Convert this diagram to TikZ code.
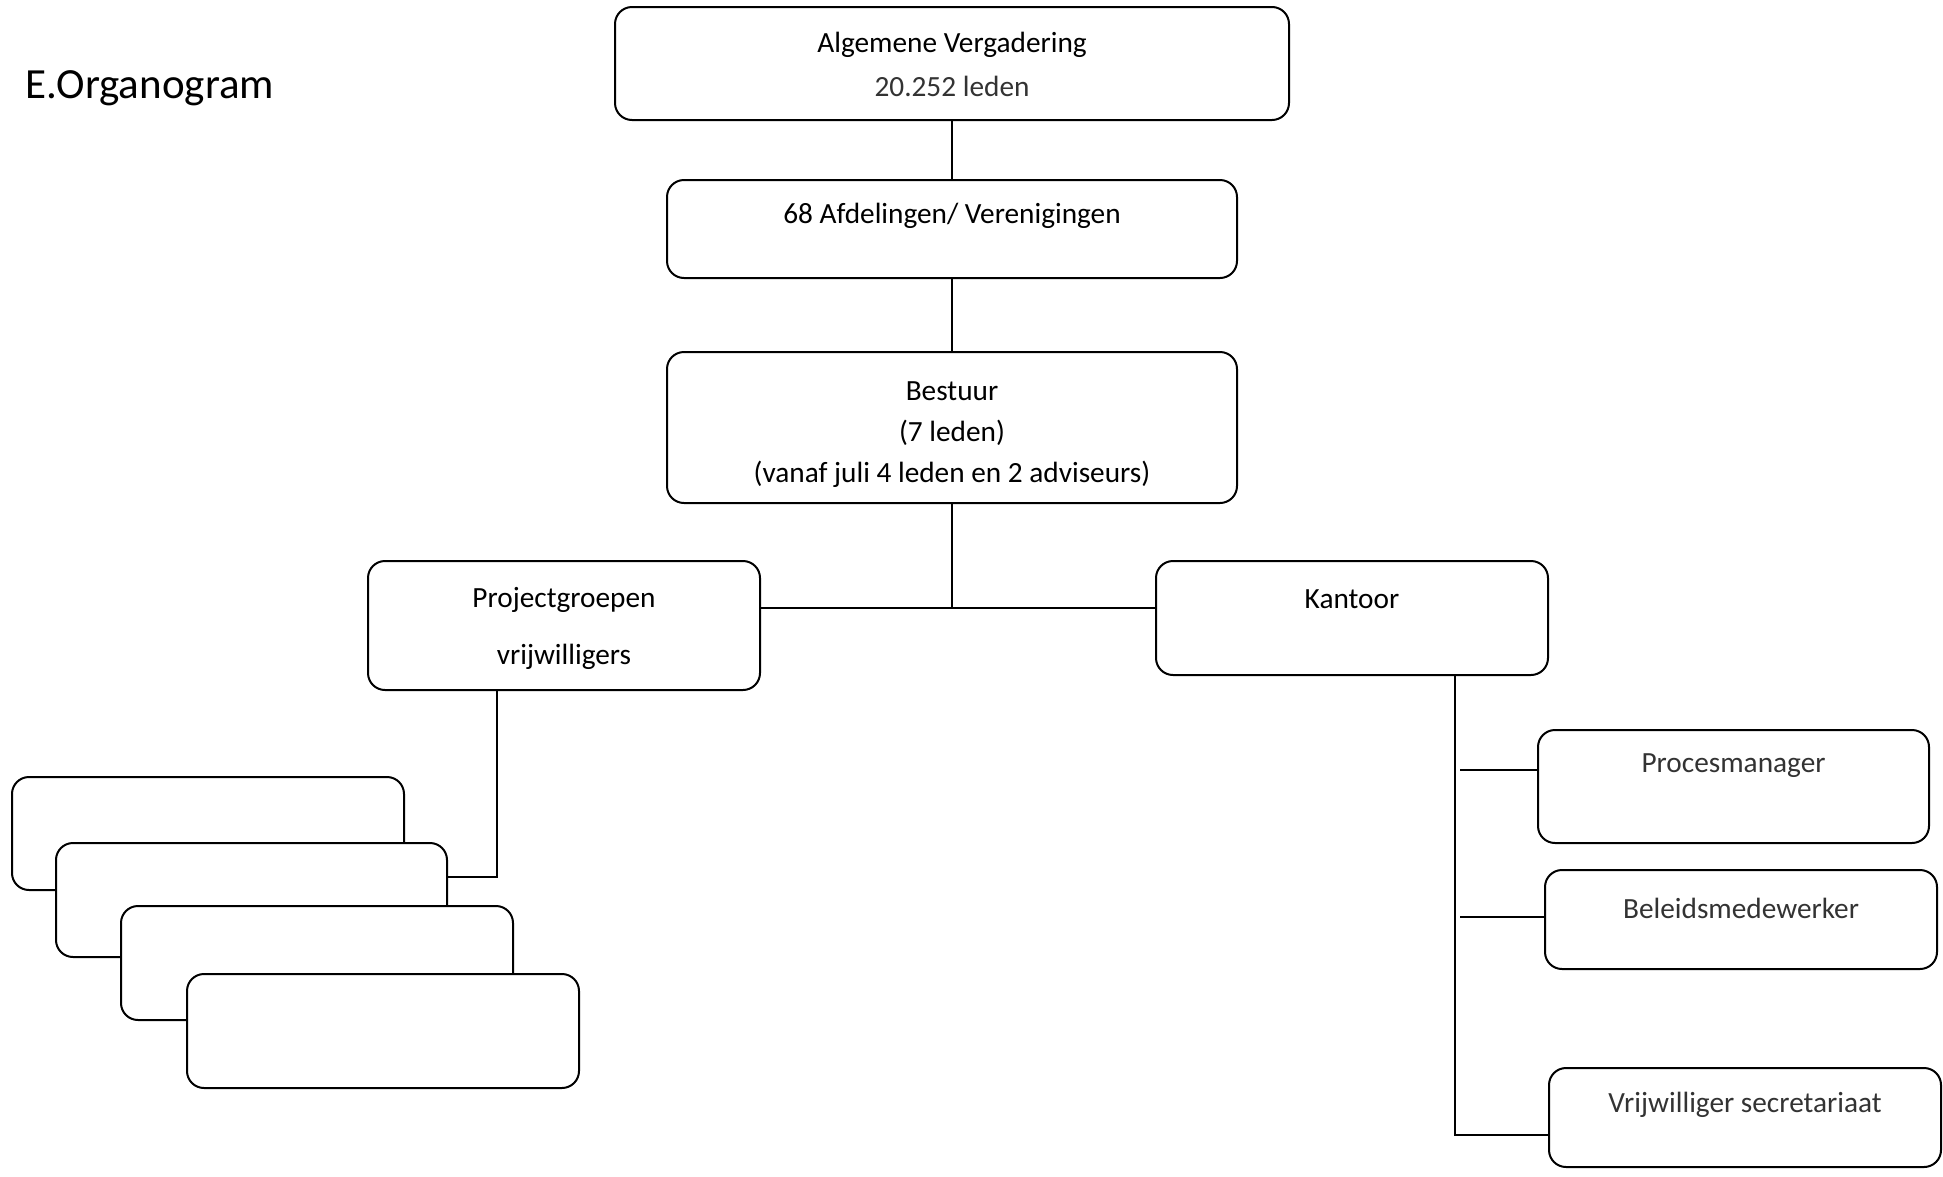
\documentclass[tikz,border=0pt]{standalone}
\usepackage{fontspec}
\setmainfont{Carlito}
\begin{document}
\begin{tikzpicture}[x=1pt,y=-1pt,
  box/.style={draw=black, line width=2pt, rounded corners=17pt, fill=white, inner sep=0pt},
  conn/.style={draw=black, line width=2pt},
  lbl/.style={font=\fontsize{29.3}{35}\selectfont, inner sep=0pt, anchor=center},
  lightlbl/.style={lbl, text=black!80}]
\useasboundingbox (0,0) rectangle (1943,1176);

\node[anchor=west, font=\fontsize{43}{52}\selectfont, inner sep=0pt] (title) at (25,88) {E.Organogram};

% main column
\node[box, minimum width=674pt, minimum height=113pt] (alg) at (952,63.5) {};
\node[lbl] (algt) at (952,45) {Algemene Vergadering};
\node[lightlbl] (algn) at (952,86) {20.252 leden};

\node[box, minimum width=570pt, minimum height=98pt] (afd) at (952,229) {};
\node[lbl] (afdt) at (952,216) {68 Afdelingen/ Verenigingen};

\node[box, minimum width=570pt, minimum height=151pt] (best) at (952,427.5) {};
\node[lbl] (bt1) at (952,391) {Bestuur};
\node[lbl] (bt2) at (952,433) {(7 leden)};
\node[lbl] (bt3) at (952,474) {(vanaf juli 4 leden en 2 adviseurs)};

\node[box, minimum width=392pt, minimum height=129pt] (proj) at (564,625.5) {};
\node[lbl] (pt1) at (564,600) {Projectgroepen};
\node[lbl] (pt2) at (564,657) {vrijwilligers};

\node[box, minimum width=392pt, minimum height=114pt] (kant) at (1352,618) {};
\node[lbl] (kt) at (1352,599) {Kantoor};

% stacked project boxes
\node[box, minimum width=392pt, minimum height=113pt] (s1) at (208,833.5) {};
\node[box, minimum width=391pt, minimum height=114pt] (s2) at (251.5,900) {};
\node[box, minimum width=392pt, minimum height=114pt] (s3) at (317,963) {};
\node[box, minimum width=392pt, minimum height=114pt] (s4) at (383,1031) {};

% office boxes
\node[box, minimum width=391pt, minimum height=113pt] (pm) at (1733.5,786.5) {};
\node[lightlbl] (pmt) at (1733.5,766) {Procesmanager};
\node[box, minimum width=392pt, minimum height=99pt] (bm) at (1741,919.5) {};
\node[lightlbl] (bmt) at (1741,908) {Beleidsmedewerker};
\node[box, minimum width=392pt, minimum height=99pt] (vs) at (1745,1117.5) {};
\node[lightlbl] (vst) at (1745,1105) {Vrijwilliger secretariaat};

% connectors
\draw[conn] (alg.south) -- (afd.north);
\draw[conn] (afd.south) -- (best.north);
\coordinate (j) at (952,608);
\draw[conn] (best.south) -- (j);
\draw[conn] (proj.east |- j) -- (kant.west |- j);

\coordinate (pj) at (497,877);
\draw[conn] (proj.south -| pj) -- (pj) -- (s2.east |- pj);

\coordinate (kb) at (1455,1135);
\draw[conn] (kant.south -| kb) -- (kb) -- (vs.west |- kb);
\coordinate (k1) at (1460,770);
\draw[conn] (k1) -- (pm.west |- k1);
\coordinate (k2) at (1460,917);
\draw[conn] (k2) -- (bm.west |- k2);
\end{tikzpicture}
\end{document}
